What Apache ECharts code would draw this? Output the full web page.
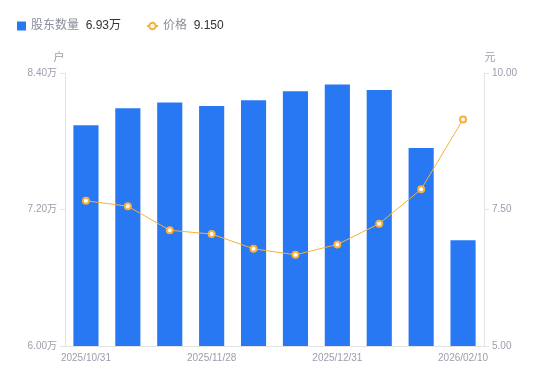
<!DOCTYPE html>
<html><head><meta charset="utf-8">
<script src="https://cdn.jsdelivr.net/npm/echarts@6/dist/echarts.min.js"></script>
<style>html,body{margin:0;padding:0;background:#fff}#c{width:550px;height:381px}</style>
</head><body><div id="c"></div>
<script>
var categories = ['2025/10/31','2025/11/10','2025/11/20','2025/11/28','2025/12/10','2025/12/19','2025/12/31','2026/01/09','2026/01/20','2026/02/10'];
var holders = [7.94, 8.09, 8.14, 8.11, 8.16, 8.24, 8.30, 8.25, 7.74, 6.93];
var prices = [7.66, 7.56, 7.12, 7.05, 6.78, 6.67, 6.86, 7.24, 7.87, 9.15];
var leftTicks = [6.00, 8.40, 1.20];
var rightTicks = [5.00, 10.00, 2.50];

var chart = echarts.init(document.getElementById('c'));
var gray = '#9a9eab';
var font = '"Liberation Sans", "Noto Sans CJK SC", sans-serif';
var legendRich = {
  a: {color: '#8a8e99', fontSize: 12, fontFamily: font},
  b: {color: '#333', fontSize: 12, fontFamily: font}
};
chart.setOption({
  animation: false,
  textStyle: {fontFamily: font},
  legend: [
    {
      left: 12, top: 15, itemWidth: 9, itemHeight: 9,
      data: [{name: '股东数量', icon: 'rect'}],
      formatter: function (n) { return '{a|' + n + '}  {b|' + holders[holders.length-1].toFixed(2) + '万}'; },
      textStyle: {rich: legendRich}
    },
    {
      left: 141, top: 15, itemWidth: 11, itemHeight: 8,
      data: [{name: '价格'}],
      formatter: function (n) { return '{a|' + n + '}  {b|' + prices[prices.length-1].toFixed(3) + '}'; },
      textStyle: {rich: legendRich}
    }
  ],
  grid: {left: 65, right: 66, top: 73, bottom: 35},
  xAxis: {
    type: 'category', data: categories,
    axisLine: {lineStyle: {color: '#e3e3e3'}},
    axisTick: {show: false},
    axisLabel: {color: gray, fontSize: 10, interval: 2, margin: 7}
  },
  yAxis: [
    {
      type: 'value', name: '户', min: leftTicks[0], max: leftTicks[1], interval: leftTicks[2],
      nameTextStyle: {color: gray, fontSize: 11, padding: [0, 12, 0, 0]}, nameGap: 10,
      axisLine: {show: true, lineStyle: {color: '#e3e3e3'}},
      axisTick: {show: true, length: 5, lineStyle: {color: '#e3e3e3'}},
      splitLine: {show: false},
      axisLabel: {color: gray, fontSize: 10, margin: 8, formatter: function (v) { return v.toFixed(2) + '万'; }}
    },
    {
      type: 'value', name: '元', min: rightTicks[0], max: rightTicks[1], interval: rightTicks[2],
      nameTextStyle: {color: gray, fontSize: 11, padding: [0, 0, 0, 12]}, nameGap: 10,
      axisLine: {show: true, lineStyle: {color: '#e3e3e3'}},
      axisTick: {show: true, length: 5, lineStyle: {color: '#e3e3e3'}},
      splitLine: {show: false},
      axisLabel: {color: gray, fontSize: 10, margin: 8, formatter: function (v) { return v.toFixed(2); }}
    }
  ],
  series: [
    {
      name: '股东数量', type: 'bar', data: holders, barWidth: '60%', yAxisIndex: 0,
      itemStyle: {color: '#2878f4'}
    },
    {
      name: '价格', type: 'line', data: prices, yAxisIndex: 1,
      symbol: 'circle', symbolSize: 6, showSymbol: true,
      lineStyle: {color: '#f7b13a', width: 1},
      itemStyle: {color: '#fff', borderColor: '#f7b13a', borderWidth: 2}
    }
  ]
});
</script></body></html>
